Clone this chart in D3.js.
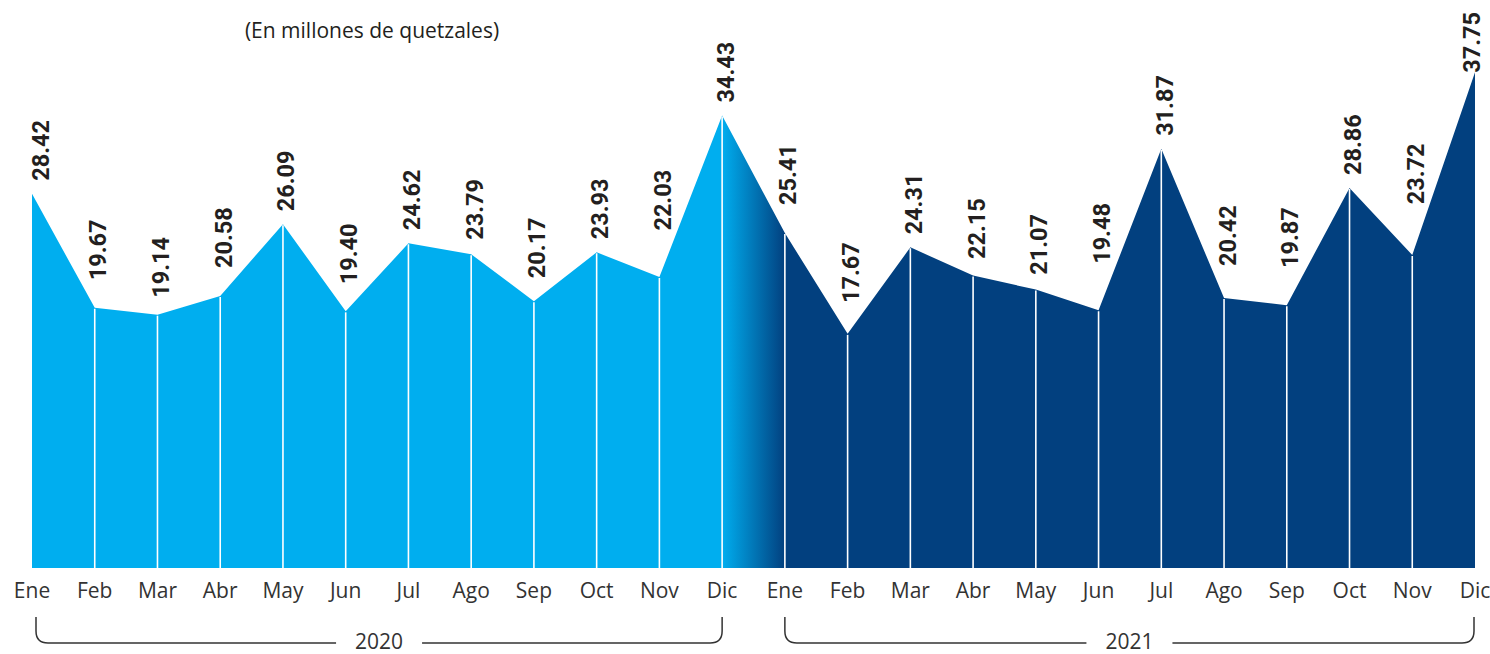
<!DOCTYPE html>
<html>
<head>
<meta charset="utf-8">
<script src="https://cdnjs.cloudflare.com/ajax/libs/d3/7.8.5/d3.min.js"></script>
<style>
  body { margin: 0; background: #fff; }
  svg { display: block; }
</style>
</head>
<body>
<div id="chart"></div>
<script>
// data
var months = ['Ene','Feb','Mar','Abr','May','Jun','Jul','Ago','Sep','Oct','Nov','Dic'];
var years = ['2020', '2021'];
var values2020 = [28.42, 19.67, 19.14, 20.58, 26.09, 19.40, 24.62, 23.79, 20.17, 23.93, 22.03, 34.43];
var values2021 = [25.41, 17.67, 24.31, 22.15, 21.07, 19.48, 31.87, 20.42, 19.87, 28.86, 23.72, 37.75];
var subtitle = '(En millones de quetzales)';

var width = 1490, height = 654;
var lightBlue = '#00aeef', darkBlue = '#02407f';
var ink = '#231f20';

var data = [];
years.forEach(function (yr, i) {
  var vals = i === 0 ? values2020 : values2021;
  months.forEach(function (m, j) {
    data.push({ key: yr + '-' + m, month: m, year: yr, v: vals[j] });
  });
});

var svg = d3.select('#chart').append('svg')
  .attr('width', width)
  .attr('height', height);

var x = d3.scalePoint()
  .domain(data.map(function (d) { return d.key; }))
  .range([32, 1475]);

var y = d3.scaleLinear()
  .domain([-0.3, 38])
  .range([568, 69]);

// gradient between Dic 2020 and Ene 2021
var defs = svg.append('defs');
var grad = defs.append('linearGradient')
  .attr('id', 'fillGrad')
  .attr('gradientUnits', 'userSpaceOnUse')
  .attr('x1', x('2020-Dic')).attr('x2', x('2021-Ene'))
  .attr('y1', 0).attr('y2', 0);
grad.append('stop').attr('offset', 0).attr('stop-color', lightBlue);
grad.append('stop').attr('offset', 1).attr('stop-color', darkBlue);

var area = d3.area()
  .x(function (d) { return x(d.key); })
  .y0(y(-0.3))
  .y1(function (d) { return y(d.v); });

svg.append('path')
  .datum(data)
  .attr('d', area)
  .attr('fill', 'url(#fillGrad)');

// white dividers
svg.selectAll('line.div').data(data.slice(1, -1))
  .enter().append('line')
  .attr('class', 'div')
  .attr('x1', function (d) { return x(d.key); })
  .attr('x2', function (d) { return x(d.key); })
  .attr('y1', function (d) { return y(d.v) + 1; })
  .attr('y2', y(-0.3))
  .attr('stroke', '#fff')
  .attr('stroke-width', 1.6);

// line y at an arbitrary x (piecewise linear)
var px = data.map(function (d) { return x(d.key); });
var py = data.map(function (d) { return y(d.v); });
var lineYAt = function (xx) {
  if (xx <= px[0]) return py[0];
  if (xx >= px[px.length - 1]) return py[py.length - 1];
  for (var i = 0; i < px.length - 1; i++) {
    if (xx >= px[i] && xx <= px[i + 1]) {
      var t = (xx - px[i]) / (px[i + 1] - px[i]);
      return py[i] + t * (py[i + 1] - py[i]);
    }
  }
};

// value labels, lifted where the line would touch them
var labels = svg.selectAll('text.val').data(data)
  .enter().append('text')
  .attr('class', 'val')
  .attr('font-family', 'Roboto, "Open Sans", sans-serif')
  .attr('font-weight', 700)
  .attr('font-size', 23.5)
  .attr('fill', ink)
  .text(function (d) { return d.v.toFixed(2); });

labels.each(function (d, i) {
  var len = this.getComputedTextLength();
  var cx = px[i];
  var lo = Math.min(lineYAt(cx - 8), lineYAt(cx + 13), py[i]);
  var by = Math.max(lo - 13, 12 + len);
  var bx = Math.max(Math.min(cx + 11.5, 1480), 48.5);
  d3.select(this).attr('transform', 'translate(' + bx + ',' + by + ') rotate(-90)');
});

// month ticks
svg.selectAll('text.tick').data(data)
  .enter().append('text')
  .attr('class', 'tick')
  .attr('x', function (d) { return x(d.key); })
  .attr('y', 598)
  .attr('text-anchor', 'middle')
  .attr('font-family', '"Open Sans", sans-serif')
  .attr('font-size', 21)
  .attr('fill', '#333')
  .text(function (d) { return d.month; });

// year brackets
var rad = 12, bTop = 617, bBot = 643, gap = 43;
years.forEach(function (yr) {
  var x0 = Math.max(x(yr + '-Ene'), 36);
  var x1 = Math.min(x(yr + '-Dic'), 1474);
  var mid = (x0 + x1) / 2;
  var path = d3.path();
  path.moveTo(x0, bTop);
  path.lineTo(x0, bBot - rad);
  path.quadraticCurveTo(x0, bBot, x0 + rad, bBot);
  path.lineTo(mid - gap, bBot);
  path.moveTo(mid + gap, bBot);
  path.lineTo(x1 - rad, bBot);
  path.quadraticCurveTo(x1, bBot, x1, bBot - rad);
  path.lineTo(x1, bTop);
  svg.append('path')
    .attr('d', path.toString())
    .attr('fill', 'none')
    .attr('stroke', '#333')
    .attr('stroke-width', 1.5);
  svg.append('text')
    .attr('x', mid)
    .attr('y', 649)
    .attr('text-anchor', 'middle')
    .attr('font-family', '"Open Sans", sans-serif')
    .attr('font-size', 21)
    .attr('fill', '#333')
    .text(yr);
});

svg.append('text')
  .attr('x', 372)
  .attr('y', 38)
  .attr('text-anchor', 'middle')
  .attr('font-family', '"Open Sans", sans-serif')
  .attr('font-size', 21)
  .attr('fill', ink)
  .text(subtitle);
</script>
</body>
</html>
